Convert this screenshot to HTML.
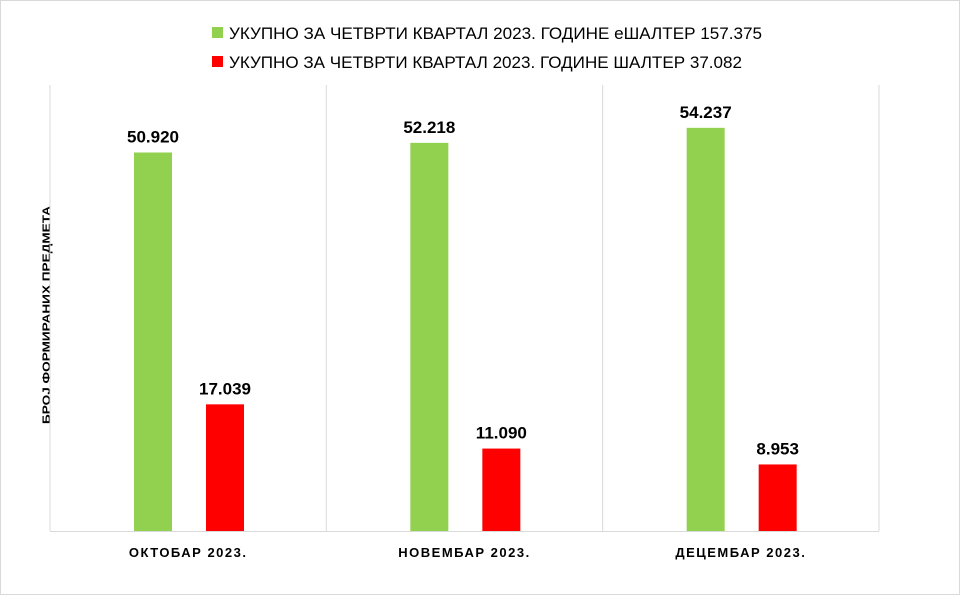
<!DOCTYPE html>
<html><head><meta charset="utf-8"><style>
html,body{margin:0;padding:0;background:#fff;}
svg{display:block;font-family:"Liberation Sans",sans-serif;}
</style></head><body>
<svg id="chart" width="960" height="595">
<rect x="0.5" y="0.5" width="959" height="594" fill="#fff" stroke="#d9d9d9"/>
<g>
<g>
<rect x="212" y="27" width="11" height="11" fill="#92d050"/>
<text x="229" y="39" font-size="17" textLength="533" lengthAdjust="spacingAndGlyphs" fill="#000">УКУПНО ЗА ЧЕТВРТИ КВАРТАЛ 2023. ГОДИНЕ еШАЛТЕР 157.375</text>
</g>
<g>
<rect x="212" y="56" width="11" height="11" fill="#ff0000"/>
<text x="229" y="68" font-size="17" textLength="513" lengthAdjust="spacingAndGlyphs" fill="#000">УКУПНО ЗА ЧЕТВРТИ КВАРТАЛ 2023. ГОДИНЕ ШАЛТЕР 37.082</text>
</g>
</g>
<text transform="translate(50,315) rotate(-90)" text-anchor="middle" font-size="11" font-weight="bold" textLength="218" lengthAdjust="spacingAndGlyphs">БРОЈ ФОРМИРАНИХ ПРЕДМЕТА</text>
<g id="grid"></g>
<g id="bars"></g>
<g id="labels"></g>
<g id="xaxis"></g>
</svg>
<script>
const categories = ["ОКТОБАР 2023.", "НОВЕМБАР 2023.", "ДЕЦЕМБАР 2023."];
const eshalterValues = [50920, 52218, 54237];
const shalterValues = [17039, 11090, 8953];
const valueLabelsGreen = ["50.920", "52.218", "54.237"];
const valueLabelsRed = ["17.039", "11.090", "8.953"];
const yMax = 60000;

const NS = "http://www.w3.org/2000/svg";
const plotL = 50, plotR = 879, plotT = 85, plotB = 531;
const groupW = (plotR - plotL) / categories.length;
function y(v){ return plotB - v / yMax * (plotB - plotT); }
function gx(i){ return plotL + i * groupW; }
function mk(tag, attrs, parent){
  const e = document.createElementNS(NS, tag);
  for (const k in attrs) e.setAttribute(k, attrs[k]);
  parent.appendChild(e); return e;
}
const grid = document.getElementById('grid');
for (let i = 0; i <= categories.length; i++){
  const l = mk('line', {x1: gx(i), x2: gx(i), y1: plotT, y2: plotB, stroke: '#d9d9d9', 'stroke-width': 1}, grid);
  
  
}
const base = mk('line', {x1: plotL, x2: plotR, y1: plotB + 0.5, y2: plotB + 0.5, stroke: '#d9d9d9', 'stroke-width': 1}, grid);



const bars = document.getElementById('bars');
const labels = document.getElementById('labels');
const xaxis = document.getElementById('xaxis');
const bw = 38;
categories.forEach((c, i) => {
  const gxs = gx(i) + 84, rxs = gx(i) + 156;
  const g = mk('rect', {x: gxs, y: y(eshalterValues[i]), width: bw, height: plotB - y(eshalterValues[i]), fill: '#92d050'}, bars);
  
  
  const r = mk('rect', {x: rxs, y: y(shalterValues[i]), width: bw, height: plotB - y(shalterValues[i]), fill: '#ff0000'}, bars);
  
  
  const t1 = mk('text', {x: gxs + bw / 2, y: y(eshalterValues[i]) - 10, 'text-anchor': 'middle', 'font-size': 17, 'font-weight': 'bold'}, labels);
  t1.textContent = valueLabelsGreen[i];
  
  
  const t2 = mk('text', {x: rxs + bw / 2, y: y(shalterValues[i]) - 10, 'text-anchor': 'middle', 'font-size': 17, 'font-weight': 'bold'}, labels);
  t2.textContent = valueLabelsRed[i];
  
  
  const xl = mk('text', {x: gx(i) + groupW / 2, y: 557, 'text-anchor': 'middle', 'font-size': 13, 'font-weight': 'bold', 'letter-spacing': 1.5}, xaxis);
  xl.textContent = c;
  
  
});
</script>
</body></html>
